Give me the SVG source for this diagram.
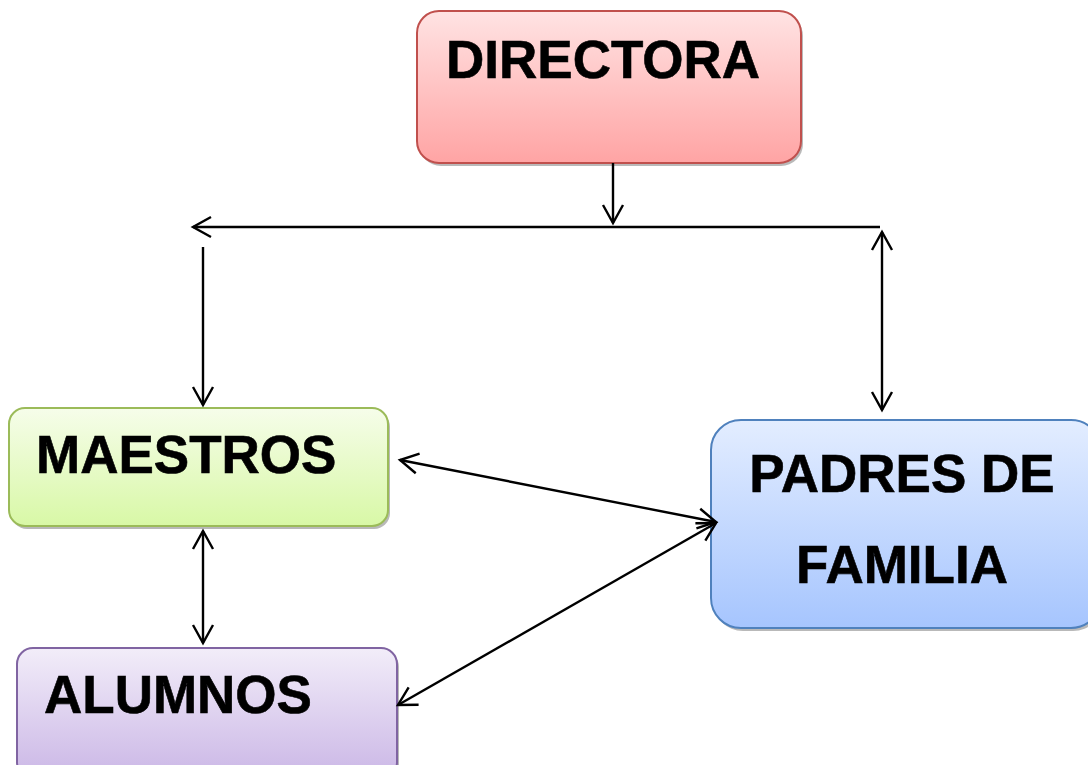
<svg xmlns="http://www.w3.org/2000/svg" width="1088" height="765" viewBox="0 0 1088 765">
<style>
.lbl{font-family:"Liberation Sans",Arial,sans-serif;font-weight:bold;font-size:53px;fill:#000;stroke:#000;stroke-width:0.6}
.con{stroke:#000;stroke-width:2.4;fill:none}
.shadow{fill:#7f7f7f;opacity:0.55}
</style>
<defs>
<linearGradient id="gR" x1="0" y1="0" x2="0" y2="1"><stop offset="0" stop-color="#ffe3e3"/><stop offset="1" stop-color="#ffa4a4"/></linearGradient>
<linearGradient id="gG" x1="0" y1="0" x2="0" y2="1"><stop offset="0" stop-color="#f6fdea"/><stop offset="1" stop-color="#d8f8a6"/></linearGradient>
<linearGradient id="gB" x1="0" y1="0" x2="0" y2="1"><stop offset="0" stop-color="#e3edff"/><stop offset="1" stop-color="#a6c5fe"/></linearGradient>
<linearGradient id="gP" x1="0" y1="0" x2="0" y2="1"><stop offset="0" stop-color="#f2edf9"/><stop offset="1" stop-color="#cbb7e6"/></linearGradient>
<marker id="ah" viewBox="0 0 24 24" refX="21" refY="12" markerWidth="24" markerHeight="24" markerUnits="userSpaceOnUse" orient="auto-start-reverse">
<path d="M3,2 L21,12 L3,22" fill="none" stroke="#000" stroke-width="2.4"/>
</marker>
</defs>
<g id="directora">
<rect class="shadow" x="419" y="14" width="384" height="152" rx="22"/>
<rect x="417" y="11" width="384" height="152" rx="22" fill="url(#gR)" stroke="#c0504d" stroke-width="2"/>
<text class="lbl" x="446" y="78">DIRECTORA</text>
</g>
<g id="maestros">
<rect class="shadow" x="11" y="411" width="379" height="118" rx="16"/>
<rect x="9" y="408" width="379" height="118" rx="16" fill="url(#gG)" stroke="#9bbb59" stroke-width="2"/>
<text class="lbl" x="36" y="473">MAESTROS</text>
</g>
<g id="padres">
<rect class="shadow" x="713" y="423" width="390" height="208" rx="30"/>
<rect x="711" y="420" width="390" height="208" rx="30" fill="url(#gB)" stroke="#4f81bd" stroke-width="2"/>
<text class="lbl" x="902" y="492" text-anchor="middle">PADRES DE</text>
<text class="lbl" x="902" y="583" text-anchor="middle">FAMILIA</text>
</g>
<g id="alumnos">
<rect class="shadow" x="19" y="651" width="380" height="130" rx="16"/>
<rect x="17" y="648" width="380" height="130" rx="16" fill="url(#gP)" stroke="#8064a2" stroke-width="2"/>
<text class="lbl" x="44" y="713">ALUMNOS</text>
</g>
<g id="connectors">
<line class="con" x1="613" y1="163" x2="613" y2="223" marker-end="url(#ah)"/>
<line class="con" x1="880" y1="227" x2="193" y2="227" marker-end="url(#ah)"/>
<line class="con" x1="203" y1="247" x2="203" y2="405" marker-end="url(#ah)"/>
<line class="con" x1="882" y1="232" x2="882" y2="410" marker-start="url(#ah)" marker-end="url(#ah)"/>
<line class="con" x1="203" y1="531" x2="203" y2="643" marker-start="url(#ah)" marker-end="url(#ah)"/>
<line class="con" x1="400" y1="460" x2="716" y2="522" marker-start="url(#ah)" marker-end="url(#ah)"/>
<line class="con" x1="398" y1="705" x2="716" y2="523" marker-start="url(#ah)" marker-end="url(#ah)"/>
</g>
</svg>
